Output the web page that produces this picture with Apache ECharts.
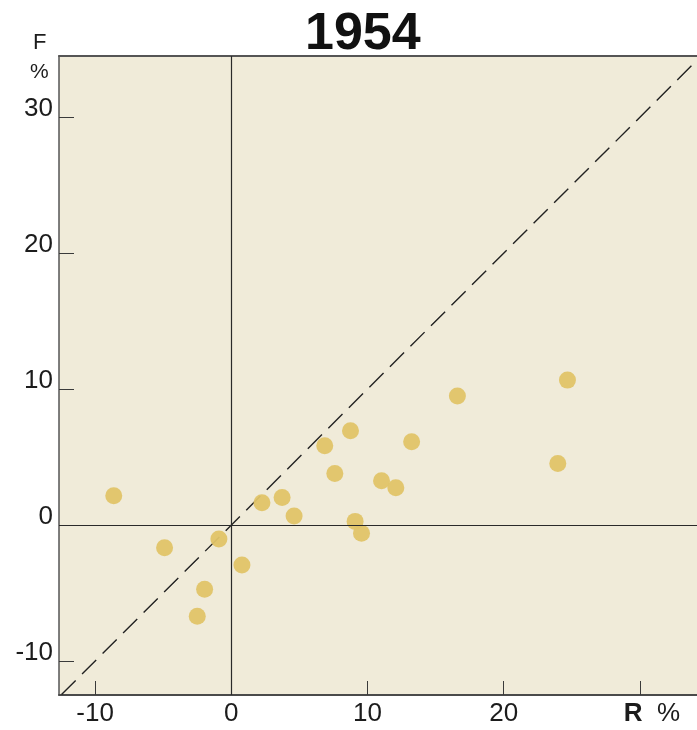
<!DOCTYPE html>
<html><head><meta charset="utf-8">
<script src="https://cdn.jsdelivr.net/npm/echarts@6/dist/echarts.min.js"></script>
<style>html,body{margin:0;padding:0;background:#fff}#c{width:697px;height:730px}</style>
</head><body><div id="c"></div>
<script>
const chartTitle = '1954';
const yName = 'F';
const yUnit = '%';
const xName = 'R';
const R = [-8.63, -4.9, -0.91, 0.78, -1.96, -2.5, 2.25, 3.73, 4.61, 6.86, 8.75, 7.6, 9.09, 9.56, 11.03, 12.08, 13.24, 16.6, 23.97, 24.68];
const F = [2.16, -1.67, -1.03, -2.94, -4.73, -6.7, 1.64, 2.03, 0.66, 5.83, 6.94, 3.8, 0.27, -0.61, 3.26, 2.75, 6.13, 9.49, 4.53, 10.66];
const tickLabels = [-10, 0, 10, 20, 30];
const tickMarks = [-10, 10, 20, 30];
const xRange = [-12.65, 34.19];
const yRange = [-12.5, 34.5];
const diagonal = [[-20, -20], [40, 40]];

const font = 'Liberation Sans, Arial, sans-serif';
const chart = echarts.init(document.getElementById('c'), null, {renderer: 'canvas'});
const labelStyle = {fontSize: 26, color: '#1c1c1c', fontFamily: font};

chart.setOption({
  backgroundColor: '#ffffff',
  animation: false,
  title: [
    {text: chartTitle, left: 300, top: 4, textStyle: {fontSize: 52, fontWeight: 'bold', color: '#111', fontFamily: font}},
    {text: yName, left: 28, top: 27, textStyle: {fontSize: 22, fontWeight: 'normal', color: '#1c1c1c', fontFamily: font}},
    {text: yUnit, left: 25, top: 57, textStyle: {fontSize: 21, fontWeight: 'normal', color: '#1c1c1c', fontFamily: font}}
  ],
  grid: {left: 59, right: 0, top: 56, bottom: 35, show: true, backgroundColor: '#f0ebd9', borderWidth: 0},
  xAxis: [
    {
      type: 'value', min: xRange[0], max: xRange[1], position: 'bottom',
      axisLine: {show: true, onZero: false, lineStyle: {color: '#4a4a4a', width: 2}},
      axisTick: {show: true, inside: true, length: 14, customValues: tickMarks, lineStyle: {color: '#3a3a3a', width: 1}},
      axisLabel: Object.assign({
        customValues: tickLabels, margin: 6,
        formatter: v => v === 30 ? '{s|}{r|' + xName + '}  ' + yUnit : String(v),
        rich: {s: {width: 24}, r: {fontWeight: 'bold', fontSize: 26, color: '#1c1c1c', fontFamily: font}}
      }, labelStyle),
      splitLine: {show: false}
    },
    {
      type: 'value', min: xRange[0], max: xRange[1], position: 'top',
      axisLine: {show: true, onZero: false, lineStyle: {color: '#555', width: 2}},
      axisTick: {show: false}, axisLabel: {show: false}, splitLine: {show: false}
    }
  ],
  yAxis: {
    type: 'value', min: yRange[0], max: yRange[1],
    axisLine: {show: true, onZero: false, lineStyle: {color: '#555', width: 1.5}},
    axisTick: {show: true, inside: true, length: 15, customValues: tickMarks, lineStyle: {color: '#3a3a3a', width: 1}},
    axisLabel: Object.assign({customValues: tickLabels, margin: 6, verticalAlign: 'bottom', lineHeight: 16}, labelStyle),
    splitLine: {show: false}
  },
  series: [
    {
      type: 'line', data: diagonal, symbol: 'none', clip: true, silent: true, z: 2,
      lineStyle: {color: '#222', width: 1.4, type: [20, 9]},
      markLine: {
        silent: true, symbol: 'none', label: {show: false},
        lineStyle: {color: '#2a2a2a', width: 1.2, type: 'solid'},
        data: [{xAxis: 0}, {yAxis: 0}]
      }
    },
    {
      type: 'scatter', data: R.map((r, i) => [r, F[i]]), symbolSize: 17, z: 3,
      itemStyle: {color: '#e0c468', opacity: 0.95}
    }
  ]
});
</script></body></html>
